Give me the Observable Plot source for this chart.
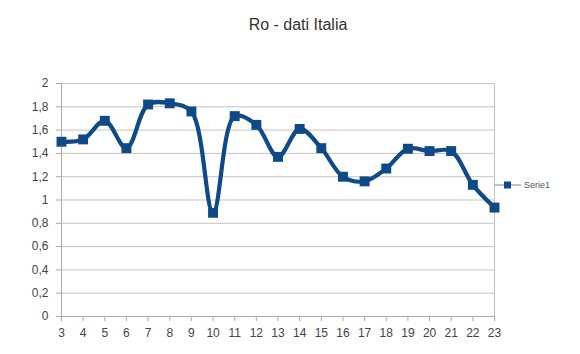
<!DOCTYPE html>
<html><head><meta charset="utf-8">
<script src="https://cdn.jsdelivr.net/npm/d3@7"></script>
<script src="https://cdn.jsdelivr.net/npm/@observablehq/plot@0.6"></script>
<style>
body{margin:0;background:#fff;font-family:"Liberation Sans",Arial,sans-serif;}
#wrap{position:relative;width:580px;height:354px;overflow:hidden}
#title{height:50px;line-height:50px;text-align:center;font-size:16px;color:#333;padding-left:16px;box-sizing:border-box}
#legend{position:absolute;left:495px;top:180px;font-size:9px;color:#555;display:flex;align-items:center;gap:3px}
</style></head><body>
<div id="wrap"><div id="title"></div><div id="chart"></div><div id="legend"></div></div>
<script>
const chartTitle = "Ro - dati Italia";
const seriesName = "Serie1";
const days = [3,4,5,6,7,8,9,10,11,12,13,14,15,16,17,18,19,20,21,22,23];
const values = [1.50,1.52,1.68,1.445,1.82,1.83,1.76,0.89,1.72,1.645,1.37,1.61,1.445,1.20,1.16,1.27,1.44,1.42,1.42,1.13,0.935];
const yTicks = [0,0.2,0.4,0.6,0.8,1,1.2,1.4,1.6,1.8,2];
const color = "#0e4a87";

const data = days.map((d,i)=>({day:d, ro:values[i]}));
document.getElementById("title").textContent = chartTitle;

const fmt = d => String(d).replace(".", ",");
const chart = Plot.plot({
  width:580, height:304,
  marginLeft:61, marginRight:86, marginTop:33, marginBottom:38,
  style:{fontFamily:"Liberation Sans, Arial, sans-serif", fontSize:"12px", color:"#444"},
  x:{domain:[3,23], label:null},
  y:{domain:[0,2], label:null},
  marks:[
    Plot.gridY(yTicks,{stroke:"#c4c4c4", strokeOpacity:1}),
    Plot.ruleX([23],{stroke:"#c4c4c4"}),
    Plot.axisY(yTicks,{tickFormat:fmt, tickSize:5, tickPadding:8, stroke:"#aaa", fill:"#444", label:null}),
    Plot.axisX(days,{tickFormat:d=>String(d), tickSize:5, tickPadding:7, stroke:"#aaa", fill:"#444", label:null}),
    Plot.ruleY([0],{stroke:"#aaa"}),
    Plot.ruleX([3],{stroke:"#aaa"}),
    Plot.line(data,{x:"day", y:"ro", curve:"catmull-rom", stroke:color, strokeWidth:4.2}),
    Plot.dot(data,{x:"day", y:"ro", symbol:"square", r:5.6, fill:color, stroke:null})
  ]
});
document.getElementById("chart").appendChild(chart);

const lg = document.getElementById("legend");
lg.innerHTML = `<svg width="26" height="10"><line x1="0" y1="5" x2="26" y2="5" stroke="#8a9bb0" stroke-width="1.2"/><rect x="9" y="1.5" width="7" height="7" fill="${color}"/></svg><span></span>`;
lg.querySelector("span").textContent = seriesName;
</script>
</body></html>
